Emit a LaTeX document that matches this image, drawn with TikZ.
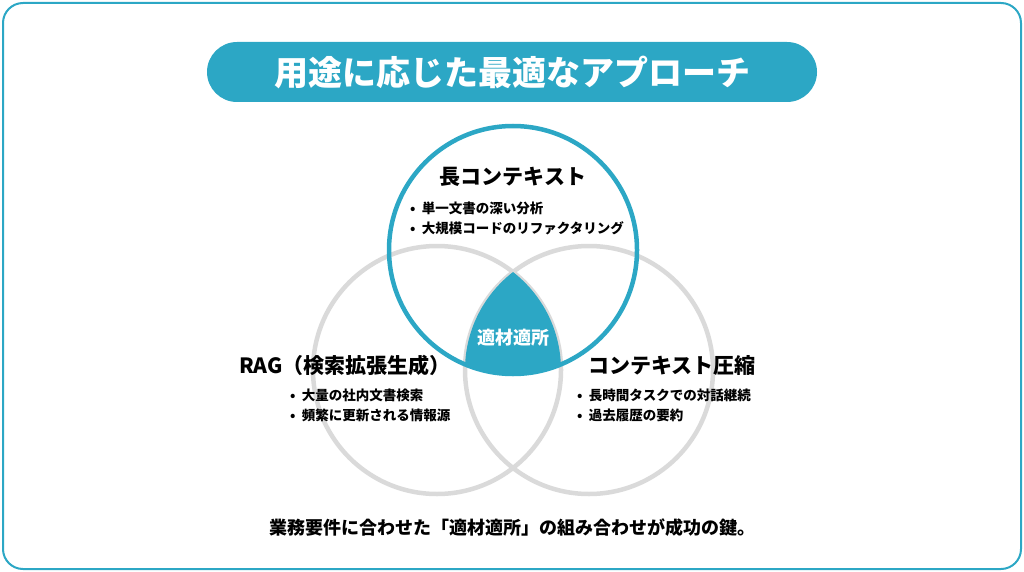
\documentclass[tikz,border=0pt]{standalone}
\usepackage{fontspec}
\setmainfont{Noto Sans CJK JP}
\usetikzlibrary{positioning}
\definecolor{venn-cyan}{HTML}{2CA7C5}
\definecolor{venn-gray}{HTML}{DADADA}

\begin{document}
\begin{tikzpicture}[x=1pt,y=-1pt]
	\tikzstyle{every node}+=[inner sep=0pt]
	\tikzset{
		head/.style={font=\fontsize{21}{24}\selectfont\bfseries},
		items/.style={font=\fontsize{13.5}{20}\selectfont\bfseries, align=left, anchor=north west}
	}
	\useasboundingbox (0,0) rectangle (1024,572);
	\draw [venn-cyan, line width=2pt, rounded corners=20] (3,3) rectangle (1021,569);

	%----------------------------------------

	\fill [venn-cyan, rounded corners=30] (207,42) rectangle (817,102);
	\node [text=white, font=\fontsize{34}{36}\selectfont\bfseries] (title) at (512,72) {用途に応じた最適なアプローチ};

	%----------------------------------------

	\draw [venn-gray, line width=4.5pt] (437,370) circle (124);
	\draw [venn-gray, line width=4.5pt] (589,370) circle (124);
	\begin{scope}
		\clip (513,250) circle (124);
		\clip (437,370) circle (124);
		\fill [venn-cyan] (589,370) circle (124);
	\end{scope}
	\draw [venn-cyan, line width=4.5pt] (513,250) circle (124);

	\node [text=white, font=\fontsize{18}{20}\selectfont\bfseries] (core) at (513,338) {適材適所};

	%----------------------------------------

	\node [head] (longctx) at (513,177) {長コンテキスト};
	\node [items] (longitems) at (410,202) {•\ \ 単一文書の深い分析\\•\ \ 大規模コードのリファクタリング};

	\node [head] (rag) at (345,365) {RAG（検索拡張生成）};
	\node [items] (ragitems) at (290,389) {•\ \ 大量の社内文書検索\\•\ \ 頻繁に更新される情報源};

	\node [head] (compress) at (672,365) {コンテキスト圧縮};
	\node [items] (compitems) at (577,389) {•\ \ 長時間タスクでの対話継続\\•\ \ 過去履歴の要約};

	%----------------------------------------

	\node [font=\fontsize{18}{20}\selectfont\bfseries] (summary) at (512,528) {業務要件に合わせた「適材適所」の組み合わせが成功の鍵。};
\end{tikzpicture}
\end{document}
